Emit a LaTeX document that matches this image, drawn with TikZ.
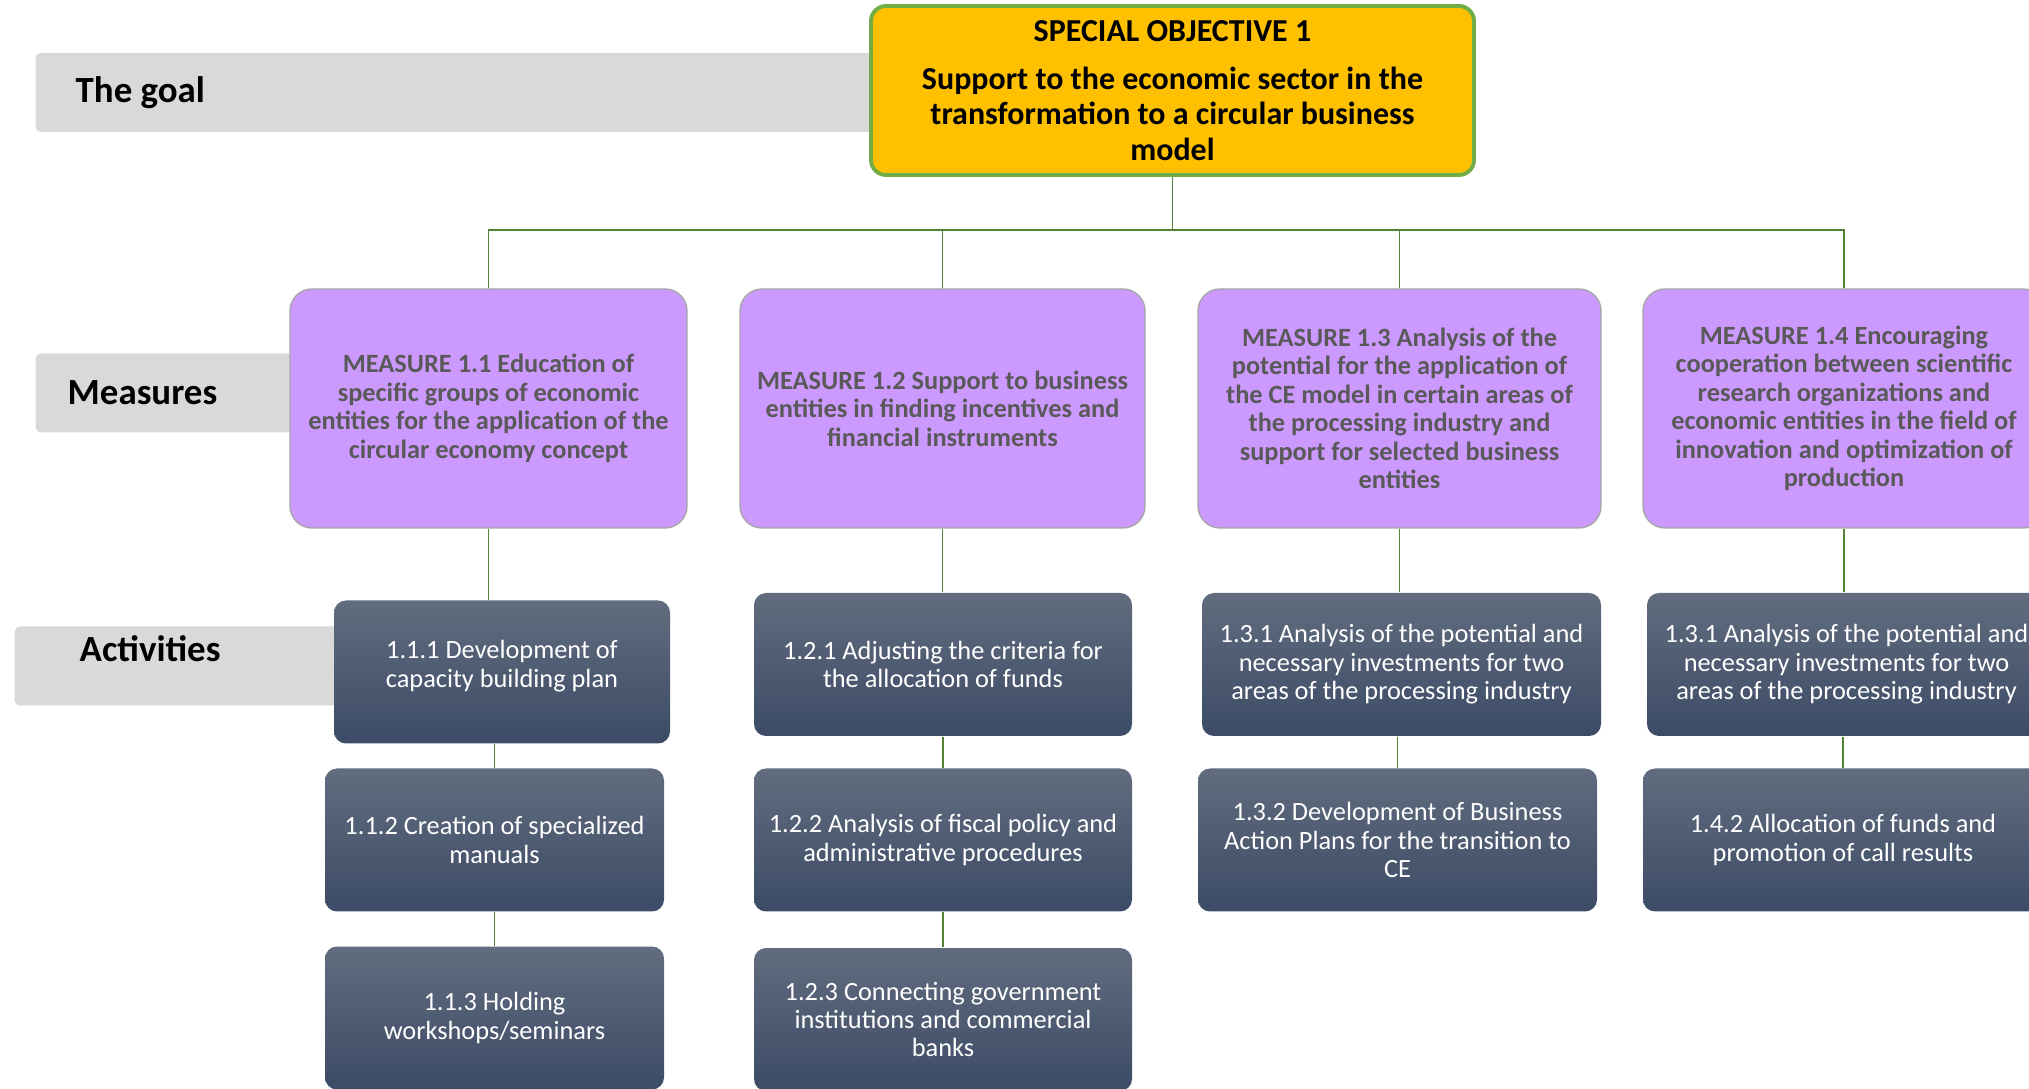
\documentclass[tikz,border=0pt]{standalone}
\usepackage{fontspec}
\setmainfont{Carlito}

\definecolor{goalfill}{RGB}{255,192,0}
\definecolor{goalline}{RGB}{112,173,71}
\definecolor{measurefill}{RGB}{204,153,255}
\definecolor{measureline}{RGB}{166,166,166}
\definecolor{measuretext}{RGB}{89,89,89}
\definecolor{acttop}{RGB}{97,108,126}
\definecolor{actbottom}{RGB}{60,75,102}
\definecolor{bandfill}{RGB}{217,217,217}
\definecolor{linkgreen}{RGB}{84,130,53}

\tikzset{
  band/.style={fill=bandfill, rounded corners=0.05cm, anchor=west, align=flush left,
    minimum height=0.79cm, inner ysep=0, font=\fontsize{10.5pt}{12pt}\selectfont\bfseries},
  measure/.style={fill=measurefill, draw=measureline, line width=0.4pt,
    rounded corners=0.22cm, minimum height=2.39cm, inner sep=0, align=center,
    text=measuretext, font=\fontsize{7.5pt}{8.1pt}\selectfont\bfseries},
  activity/.style={top color=acttop, bottom color=actbottom, rounded corners=0.12cm,
    minimum height=1.43cm, inner sep=0, align=center, text=white,
    font=\fontsize{7.5pt}{8.1pt}\selectfont},
  link/.style={linkgreen, line width=0.45pt}
}

\begin{document}
\begin{tikzpicture}
\useasboundingbox (0,0) rectangle (20.29,-10.89);
\clip (0,0) rectangle (20.29,-10.89);
%\fill[white] (0,0) rectangle (20.29,-10.89);

% level names
\node[band, minimum width=8.65cm, inner xsep=0.40cm, text width=7.85cm] (goalband) at (0.35,-0.925) {The goal};
\node[band, minimum width=2.85cm, inner xsep=0.32cm, text width=2.21cm] (measband) at (0.35,-3.93) {Measures};
\node[band, minimum width=3.46cm, inner xsep=0.65cm, text width=2.16cm, text depth=0.34cm] (actband) at (0.14,-6.66) {Activities};

%%%
\node[fill=goalfill, draw=goalline, line width=1.1pt, rounded corners=0.15cm,
  minimum width=6.03cm, minimum height=1.69cm, inner sep=0, align=center,
  font=\fontsize{9.1pt}{10pt}\selectfont\bfseries] (goal) at (11.725,-0.905)
  {SPECIAL OBJECTIVE 1\\[3.7pt] Support to the economic sector in the\\ transformation to a circular business\\ model};

%%%
\node[measure, minimum width=3.97cm] (m1) at (4.885,-4.085)
  {MEASURE 1.1 Education of\\ specific groups of economic\\ entities for the application of the\\ circular economy concept};
\node[measure, minimum width=4.05cm] (m2) at (9.425,-4.085)
  {MEASURE 1.2 Support to business\\ entities in finding incentives and\\ financial instruments};
\node[measure, minimum width=4.03cm] (m3) at (13.995,-4.085)
  {MEASURE 1.3 Analysis of the\\ potential for the application of\\ the CE model in certain areas of\\ the processing industry and\\ support for selected business\\ entities};
\node[measure, minimum width=4.02cm] (m4) at (18.44,-4.085)
  {MEASURE 1.4 Encouraging\\ cooperation between scientific\\ research organizations and\\ economic entities in the field of\\ innovation and optimization of\\ production};

\coordinate (bus) at (11.72,-2.30);
\draw[link] (goal.south) -- (goal.south |- bus);
\foreach \m in {m1,m2,m3,m4}
  \draw[link] (\m.north) |- (goal.south |- bus);

%%%
\node[activity, minimum width=3.36cm, text depth=0.16cm] (a111) at (5.02,-6.72)
  {1.1.1 Development of\\ capacity building plan};
\node[activity, minimum width=3.39cm] (a112) at (4.945,-8.40)
  {1.1.2 Creation of specialized\\ manuals};
\node[activity, minimum width=3.39cm] (a113) at (4.945,-10.18)
  {1.1.3 Holding\\ workshops/seminars};

\node[activity, minimum width=3.78cm] (a121) at (9.43,-6.645)
  {1.2.1 Adjusting the criteria for\\ the allocation of funds};
\node[activity, minimum width=3.78cm] (a122) at (9.43,-8.40)
  {1.2.2 Analysis of fiscal policy and\\ administrative procedures};
\node[activity, minimum width=3.78cm] (a123) at (9.43,-10.195)
  {1.2.3 Connecting government\\ institutions and commercial\\ banks};

\node[activity, minimum width=3.99cm] (a131) at (14.015,-6.645)
  {1.3.1 Analysis of the potential and\\ necessary investments for two\\ areas of the processing industry};
\node[activity, minimum width=3.99cm] (a132) at (13.975,-8.40)
  {1.3.2 Development of Business\\ Action Plans for the transition to\\ CE};

\node[activity, minimum width=3.99cm] (a141) at (18.465,-6.645)
  {1.3.1 Analysis of the potential and\\ necessary investments for two\\ areas of the processing industry};
\node[activity, minimum width=4.00cm] (a142) at (18.43,-8.40)
  {1.4.2 Allocation of funds and\\ promotion of call results};

%%%
\draw[link] (m1.south) -- (m1.south |- a111.north);
\draw[link] (a112.north |- a111.south) -- (a112.north);
\draw[link] (a112.south) -- (a113.north);

\draw[link] (m2.south) -- (m2.south |- a121.north);
\draw[link] (a121.south) -- (a122.north);
\draw[link] (a122.south) -- (a123.north);

\draw[link] (m3.south) -- (m3.south |- a131.north);
\draw[link] (a132.north |- a131.south) -- (a132.north);

\draw[link] (m4.south) -- (m4.south |- a141.north);
\draw[link] (a142.north |- a141.south) -- (a142.north);

\end{tikzpicture}
\end{document}
